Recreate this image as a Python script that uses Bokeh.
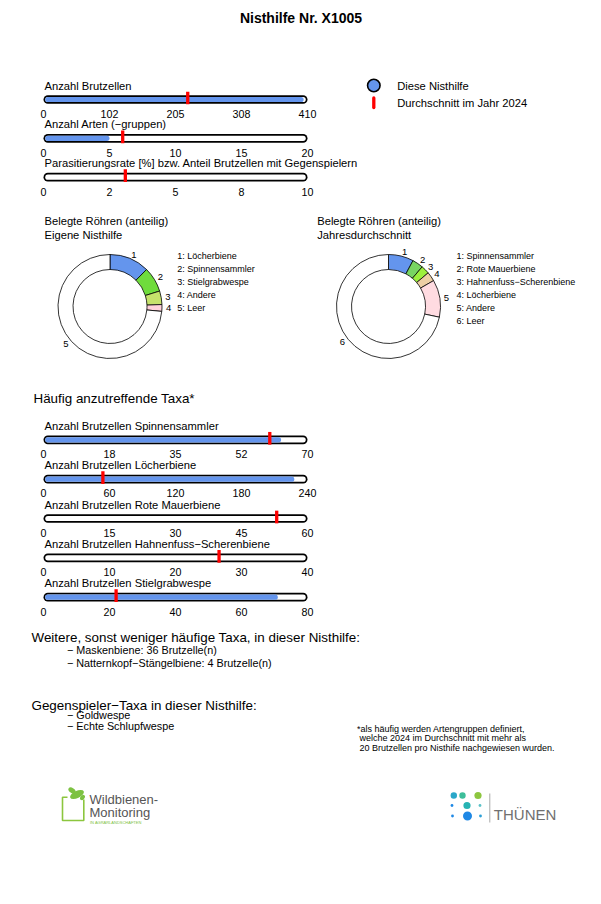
import math
from bokeh.plotting import figure
from bokeh.models import Range1d
from bokeh.embed import file_html
from bokeh.resources import INLINE
from bokeh.core.properties import value

# ---------------- data ----------------
title = "Nisthilfe Nr. X1005"

top_labels = ["Anzahl Brutzellen", "Anzahl Arten (\u2212gruppen)",
              "Parasitierungsrate [%] bzw. Anteil Brutzellen mit Gegenspielern"]
top_max = [410, 20, 10]
top_tick_labels = [["0", "102", "205", "308", "410"],
                   ["0", "5", "10", "15", "20"],
                   ["0", "2", "5", "8", "10"]]
top_values = [404, 5, 0]
top_means = [224, 6.0, 3.1]

taxa_labels = ["Anzahl Brutzellen Spinnensammler", "Anzahl Brutzellen L\u00f6cherbiene",
               "Anzahl Brutzellen Rote Mauerbiene", "Anzahl Brutzellen Hahnenfuss\u2212Scherenbiene",
               "Anzahl Brutzellen Stielgrabwespe"]
taxa_max = [70, 240, 60, 40, 80]
taxa_tick_labels = [["0", "18", "35", "52", "70"],
                    ["0", "60", "120", "180", "240"],
                    ["0", "15", "30", "45", "60"],
                    ["0", "10", "20", "30", "40"],
                    ["0", "20", "40", "60", "80"]]
taxa_values = [63, 228, 0, 0, 71]
taxa_means = [60, 54, 53, 26.6, 22]

d1_names = ["L\u00f6cherbiene", "Spinnensammler", "Stielgrabwespe", "Andere", "Leer"]
d1_values = [12.4, 7.8, 4.2, 2.1, 73.5]
d1_colors = ["#6495ED", "#6FDC3C", "#C6E26C", "#FFD1DA", "#FFFFFF"]

d2_names = ["Spinnensammler", "Rote Mauerbiene", "Hahnenfuss\u2212Scherenbiene", "L\u00f6cherbiene", "Andere", "Leer"]
d2_values = [7.8, 3.4, 2.6, 2.9, 11.6, 71.7]
d2_colors = ["#6495ED", "#78D562", "#9CF03C", "#EDCFA5", "#FFDBE1", "#FFFFFF"]

other_taxa = ["\u2212 Maskenbiene: 36 Brutzelle(n)", "\u2212 Natternkopf\u2212St\u00e4ngelbiene: 4 Brutzelle(n)"]
antagonists = ["\u2212 Goldwespe", "\u2212 Echte Schlupfwespe"]
footnote = ["*als h\u00e4ufig werden Artengruppen definiert,",
            "\u00a0welche 2024 im Durchschnitt mit mehr als",
            "\u00a020 Brutzellen pro Nisthife nachgewiesen wurden."]

# ---------------- styling ----------------
FONT = "Liberation Sans"
BLUE = "#6495ED"
RED = "#FF0000"
X0, X1 = 43.0, 307.0

p = figure(width=585, height=888, x_range=Range1d(0, 585), y_range=Range1d(0, 888),
           output_backend="svg", toolbar_location=None, min_border=0,
           x_axis_location=None, y_axis_location=None)
p.grid.visible = False
p.outline_line_color = None
p.background_fill_color = "white"
p.border_fill_color = "white"


def Y(py):
    return 888 - py


def txt(x, y, s, size, align="left", color="black", bold=False, baseline="middle"):
    if not isinstance(x, list):
        x, y, s = [x], [y], [s]
    p.text(x=x, y=[Y(v) for v in y], text=s, text_font=value(FONT),
           text_font_size=f"{size}px", text_align=align, text_baseline=baseline,
           text_color=color, text_font_style="bold" if bold else "normal")


def bar(label, vmax, ticklabels, val, mean, yc):
    txt(44, yc - 14, label, 11.2)
    r = 4.35
    p.segment(x0=[X0 + r], y0=[Y(yc)], x1=[X1 - r], y1=[Y(yc)], line_width=8.7,
              line_color="black", line_cap="round")
    p.segment(x0=[X0 + r], y0=[Y(yc)], x1=[X1 - r], y1=[Y(yc)], line_width=5.2,
              line_color="white", line_cap="round")
    if val > 0:
        xe = X0 + val / vmax * (X1 - X0)
        p.segment(x0=[X0 + r], y0=[Y(yc)], x1=[max(xe - 2.6, X0 + r)], y1=[Y(yc)],
                  line_width=5.2, line_color=BLUE, line_cap="round")
    xm = X0 + mean / vmax * (X1 - X0)
    p.rect(x=[xm], y=[Y(yc - 1.5)], width=3.3, height=12.7, fill_color=RED, line_color=None)
    tx = [X0 + k / (len(ticklabels) - 1) * (X1 - X0) for k in range(len(ticklabels))]
    txt(tx, [yc + 14.3] * len(tx), ticklabels, 10.7, align="center")


def donut(cx, cy, vals, cols, names, lx):
    total = sum(vals)
    cum = 0.0
    starts, ends, mids = [], [], []
    for v in vals:
        a0 = cum / total * 2 * math.pi
        cum += v
        a1 = cum / total * 2 * math.pi
        starts.append(math.pi / 2 - a1)
        ends.append(math.pi / 2 - a0)
        mids.append((a0 + a1) / 2)
    p.annular_wedge(x=[cx] * len(vals), y=[Y(cy)] * len(vals), inner_radius=37, outer_radius=52,
                    start_angle=starts, end_angle=ends, fill_color=cols,
                    line_color="black", line_width=0.8)
    for i, m in enumerate(mids):
        dx = 56 * math.sin(m)
        dy = -56 * math.cos(m)
        txt(cx + dx, cy + dy, str(i + 1), 9.5, align="left" if dx >= 0 else "right")
    ly = [255 + 13.1 * i for i in range(len(names))]
    txt([lx] * len(names), ly, [f"{i + 1}: {n}" for i, n in enumerate(names)], 9)


# title
txt(300.5, 17, title, 14, align="center", bold=True)

# top bars
for i in range(3):
    bar(top_labels[i], top_max[i], top_tick_labels[i], top_values[i], top_means[i], 99 + i * 38.85)

# legend
p.scatter(x=[373.3], y=[Y(85)], size=12.5, fill_color=BLUE, line_color="black", line_width=1.6)
p.segment(x0=[373.3], y0=[Y(97.5)], x1=[373.3], y1=[Y(107)], line_width=3.3, line_color=RED,
          line_cap="round")
txt([396.7, 396.7], [85, 102], ["Diese Nisthilfe", "Durchschnitt im Jahr 2024"], 11.2)

# donuts
txt([44, 44], [220, 234], ["Belegte R\u00f6hren (anteilig)", "Eigene Nisthilfe"], 11.2)
txt([316.7, 316.7], [220, 234], ["Belegte R\u00f6hren (anteilig)", "Jahresdurchschnitt"], 11.2)
donut(109.5, 306, d1_values, d1_colors, d1_names, 176.7)
donut(388, 306, d2_values, d2_colors, d2_names, 456)

# frequent taxa
txt(33, 398, "H\u00e4ufig anzutreffende Taxa*", 13.4)
for i in range(5):
    bar(taxa_labels[i], taxa_max[i], taxa_tick_labels[i], taxa_values[i], taxa_means[i],
        439.3 + i * 39.35)

# other text
txt(31, 636.5, "Weitere, sonst weniger h\u00e4ufige Taxa, in dieser Nisthilfe:", 13.4)
txt([66.5, 66.5], [649.3, 662], other_taxa, 10.8)
txt(31, 704.5, "Gegenspieler\u2212Taxa in dieser Nisthilfe:", 13.4)
txt([66.5, 66.5], [714.3, 725.5], antagonists, 10.8)
txt([356.5, 356.5, 356.5], [728.3, 737.7, 747.3], footnote, 9)

# Wildbienen-Monitoring logo (drawn)
LG = "#8CC63E"
p.multi_line(xs=[[67, 62, 62, 83.3, 83.3]], ys=[[Y(796.8), Y(796.8), Y(820), Y(820), Y(799)]],
             line_color=LG, line_width=1.6)
p.ellipse(x=[76.5], y=[Y(794)], width=15, height=7, angle=0.45, fill_color="#7DC242", line_color=None)
p.ellipse(x=[71.5], y=[Y(790)], width=8, height=5, angle=-0.6, fill_color="#7DC242", line_color=None)
p.ellipse(x=[82], y=[Y(797)], width=6, height=4, angle=0.9, fill_color="#7DC242", line_color=None)
txt([89, 89], [798.5, 811.7], ["Wildbienen-", "Monitoring"], 13, color="#555555")
txt(89.5, 822.3, "IN AGRARLANDSCHAFTEN", 4, color="#7DC242")

# Thuenen logo (drawn)
dots_x = [453.3, 462.0, 477.5, 451.5, 466.5, 479.5, 452.0, 467.0, 480.0]
dots_y = [795, 795, 795, 805, 805, 805, 815.5, 815.5, 815.5]
dots_r = [3.2, 3.2, 3.6, 1.4, 3.6, 1.4, 1.4, 4.5, 1.4]
dots_c = ["#2AA7C9", "#3DBE9A", "#8DC63F", "#1E88E5", "#27B3B3", "#5BC2C8", "#1E88E5", "#1E88E5", "#2A9FD6"]
p.circle(x=dots_x, y=[Y(v) for v in dots_y], radius=dots_r, fill_color=dots_c, line_color=None)
p.segment(x0=[489.3], y0=[Y(793)], x1=[489.3], y1=[Y(822)], line_color="#AAAAAA", line_width=1)
txt(493.3, 813.5, "TH\u00dcNEN", 15, color="#707070")

open("out.html", "w").write(file_html(p, INLINE))
